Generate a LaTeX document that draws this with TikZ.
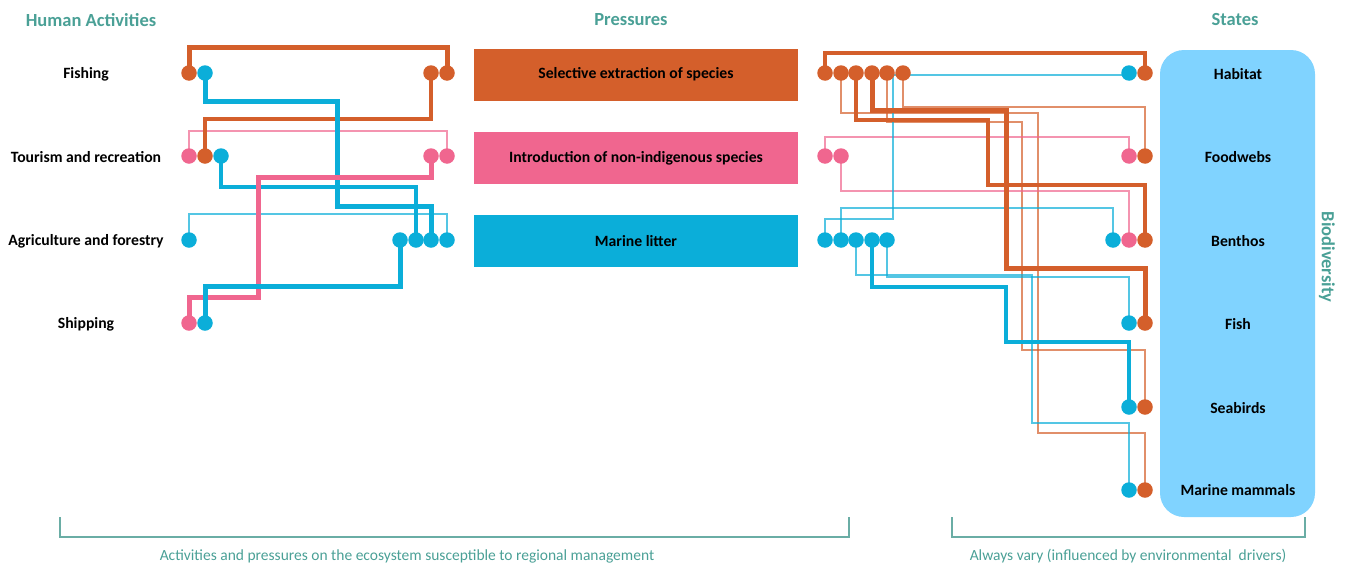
\documentclass[tikz,border=0pt]{standalone}
\usepackage{fontspec}
\setmainfont{Carlito}
\usetikzlibrary{backgrounds}
\definecolor{cOr}{HTML}{D45F2B}
\definecolor{cPk}{HTML}{F0668F}
\definecolor{cBl}{HTML}{0BAED9}
\definecolor{cSt}{HTML}{80D3FF}
\definecolor{cTl}{HTML}{4AA096}
\definecolor{cBr}{HTML}{6AADA5}
\begin{document}
\begin{tikzpicture}[x=1pt,y=-1pt,
  dot/.style={circle,inner sep=0pt,minimum size=15.5pt},
  od/.style={dot,fill=cOr},
  pd/.style={dot,fill=cPk},
  bd/.style={dot,fill=cBl},
  lk/.style={line width=5pt},
  lm/.style={line width=3.6pt},
  lt/.style={line width=1.3pt,opacity=.7},
  lab/.style={font=\bfseries\fontsize{15.7}{18}\selectfont},
  head/.style={font=\bfseries\fontsize{18.5}{21}\selectfont,text=cTl},
  note/.style={font=\fontsize{15.5}{18}\selectfont,text=cTl},
  pbox/.style={minimum width=324pt,minimum height=52pt,inner sep=0pt,font=\bfseries\fontsize{15.7}{18}\selectfont},
  brk/.style={draw=cBr,line width=1.1pt}]
\useasboundingbox (0,0) rectangle (1348,565);

% headers
\node[head] (hA) at (91,20) {Human Activities};
\node[head] (hP) at (631,20) {Pressures};
\node[head] (hS) at (1235,20) {States};

% activity labels
\node[lab] (lF) at (86,74) {Fishing};
\node[lab] (lT) at (86,157) {Tourism and recreation};
\node[lab] (lA) at (86,241) {Agriculture and forestry};
\node[lab] (lS) at (86,324) {Shipping};

% pressure boxes
\node[pbox,fill=cOr] (pSel) at (636,74.5) {Selective extraction of species};
\node[pbox,fill=cPk] (pInt) at (636,158) {Introduction of non-indigenous species};
\node[pbox,fill=cBl] (pLit) at (636,241) {Marine litter};

% states box
\node[draw=none,fill=cSt,rounded corners=24pt,minimum width=155pt,minimum height=467pt,inner sep=0pt] (sBox) at (1237.5,283.5) {};
\node[lab] (stH) at (1238,74) {Habitat};
\node[lab] (stF) at (1238,157) {Foodwebs};
\node[lab] (stB) at (1238,241) {Benthos};
\node[lab] (stFi) at (1238,324) {Fish};
\node[lab] (stSe) at (1238,408) {Seabirds};
\node[lab] (stM) at (1238,490) {Marine mammals};
\node[head,rotate=-90] (bio) at (1327,257) {Biodiversity};

% left dots
\node[od] (fa1) at (189,73) {};
\node[bd] (fa2) at (205,73) {};
\node[od] (fp1) at (431,73) {};
\node[od] (fp2) at (447,73) {};
\node[pd] (ta1) at (189,156) {};
\node[od] (ta2) at (205,156) {};
\node[bd] (ta3) at (221,156) {};
\node[pd] (tp1) at (431,156) {};
\node[pd] (tp2) at (447,156) {};
\node[bd] (aa1) at (189,240) {};
\node[bd] (ap1) at (400,240) {};
\node[bd] (ap2) at (416,240) {};
\node[bd] (ap3) at (431,240) {};
\node[bd] (ap4) at (447,240) {};
\node[pd] (sa1) at (189,323) {};
\node[bd] (sa2) at (205,323) {};

% right pressure dots
\node[od] (sp1) at (825,73) {};
\node[od] (sp2) at (841,73) {};
\node[od] (sp3) at (856,73) {};
\node[od] (sp4) at (872,73) {};
\node[od] (sp5) at (887,73) {};
\node[od] (sp6) at (903,73) {};
\node[pd] (ip1) at (825,156) {};
\node[pd] (ip2) at (841,156) {};
\node[bd] (lp1) at (825,240) {};
\node[bd] (lp2) at (841,240) {};
\node[bd] (lp3) at (856,240) {};
\node[bd] (lp4) at (872,240) {};
\node[bd] (lp5) at (887,240) {};

% state dots
\node[bd] (hb) at (1129,73) {};
\node[od] (ho) at (1145,73) {};
\node[pd] (fwp) at (1129,156) {};
\node[od] (fwo) at (1145,156) {};
\node[bd] (bb) at (1113,240) {};
\node[pd] (bp) at (1129,240) {};
\node[od] (bo) at (1145,240) {};
\node[bd] (fib) at (1129,323) {};
\node[od] (fio) at (1145,323) {};
\node[bd] (seb) at (1129,407) {};
\node[od] (seo) at (1145,407) {};
\node[bd] (mmb) at (1129,490) {};
\node[od] (mmo) at (1145,490) {};

\begin{scope}[on background layer]
% left thin
\draw[lt,cPk] (ta1.center) -- (ta1.center |- 0,131) -| (tp2.center);
\draw[lt,cBl] (aa1.center) -- (aa1.center |- 0,214) -| (ap4.center);
% left medium / thick
\draw[lk,cOr] (fa1.center) -- (fa1.center |- 0,47) -| (fp2.center);
\draw[lm,cOr] (ta2.center) -- (ta2.center |- 0,119) -| (fp1.center);
\draw[lk,cBl] (fa2.center) -- (fa2.center |- 0,101) -- (337,101) -- (337,206) -| (ap3.center);
\draw[lm,cBl] (ta3.center) -- (ta3.center |- 0,187) -| (ap2.center);
\draw[lk,cPk] (sa1.center) -- (sa1.center |- 0,297) -- (258,297) -- (258,177) -| (tp1.center);
\draw[lk,cBl] (sa2.center) -- (sa2.center |- 0,286) -| (ap1.center);

% right thin
\draw[lt,cOr] (sp2.center) -- (sp2.center |- 0,113) -- (1038,113) -- (1038,433) -| (mmo.center);
\draw[lt,cOr] (sp5.center) -- (sp5.center |- 0,122) -- (1022,122) -- (1022,350) -| (seo.center);
\draw[lt,cOr] (sp6.center) -- (sp6.center |- 0,107) -| (fwo.center);
\draw[lt,cPk] (ip1.center) -- (ip1.center |- 0,137) -| (fwp.center);
\draw[lt,cPk] (ip2.center) -- (ip2.center |- 0,191) -| (bp.center);
\draw[lt,cBl] (lp1.center) -- (lp1.center |- 0,219) -- (893,219) -- (893,75) -- (hb.center |- 0,75);
\draw[lt,cBl] (lp2.center) -- (lp2.center |- 0,208) -| (bb.center);
\draw[lt,cBl] (lp3.center) -- (lp3.center |- 0,275) -- (1032,275) -- (1032,423) -| (mmb.center);
\draw[lt,cBl] (lp5.center) -- (lp5.center |- 0,277) -| (fib.center);
% right medium / thick
\draw[lm,cOr] (sp1.center) -- (sp1.center |- 0,53) -| (ho.center);
\draw[lm,cOr] (sp3.center) -- (sp3.center |- 0,120) -- (988,120) -- (988,185) -| (bo.center);
\draw[lk,cOr] (sp4.center) -- (sp4.center |- 0,110) -- (1006,110) -- (1006,268) -| (fio.center);
\draw[lm,cBl] (lp4.center) -- (lp4.center |- 0,287) -- (1006,287) -- (1006,342) -| (seb.center);
\end{scope}

% bottom brackets
\draw[brk] (60,517) -- (60,537) -- (849,537) -- (849,517);
\draw[brk] (952,517) -- (952,537) -- (1305,537) -- (1305,517);
\node[note] (n1) at (407,556) {Activities and pressures on the ecosystem susceptible to regional management};
\node[note] (n2) at (1128,556) {Always vary (influenced by environmental\ \ drivers)};
\end{tikzpicture}
\end{document}
